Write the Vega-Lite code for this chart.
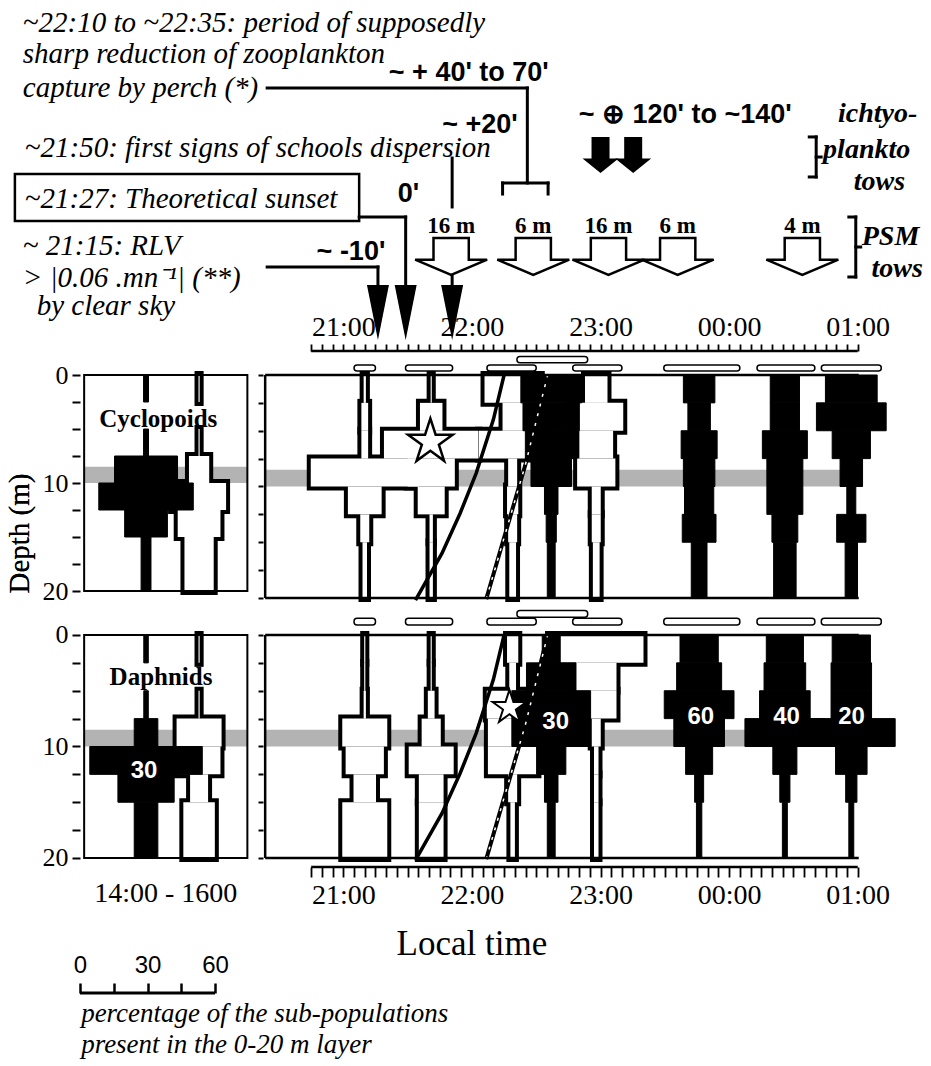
{
  "$schema": "https://vega.github.io/schema/vega-lite/v6.json",
  "background": "white",
  "width": 931,
  "height": 1066,
  "autosize": {"type": "none"},
  "padding": 0,
  "config": {
    "view": {"stroke": null},
    "font": "Liberation Serif",
    "axis": {"grid": false, "domainColor": "black", "tickColor": "black", "labelColor": "black", "titleColor": "black", "labelFont": "Liberation Serif", "titleFont": "Liberation Serif", "titleFontWeight": "normal"}
  },
  "datasets": {
    "band": [{"top": 8.5, "bot": 10}],
    "kites": [
      {"panel":"Cyclopoids","period":"day","t":"2000-01-01T14:31","top":0,"bot":2.5,"pct":2.2,"fill":"black"},
      {"panel":"Cyclopoids","period":"day","t":"2000-01-01T14:31","top":5,"bot":7.5,"pct":2.2,"fill":"black"},
      {"panel":"Cyclopoids","period":"day","t":"2000-01-01T14:31","top":7.5,"bot":10,"pct":28,"fill":"black"},
      {"panel":"Cyclopoids","period":"day","t":"2000-01-01T14:31","top":10,"bot":12.5,"pct":42,"fill":"black"},
      {"panel":"Cyclopoids","period":"day","t":"2000-01-01T14:31","top":12.5,"bot":15,"pct":19,"fill":"black"},
      {"panel":"Cyclopoids","period":"day","t":"2000-01-01T14:31","top":15,"bot":20,"pct":4.4,"fill":"black"},
      {"panel":"Cyclopoids","period":"day","t":"2000-01-01T15:49","top":0,"bot":2.5,"pct":0.5,"fill":"white"},
      {"panel":"Cyclopoids","period":"day","t":"2000-01-01T15:49","top":5,"bot":7.5,"pct":0.5,"fill":"white"},
      {"panel":"Cyclopoids","period":"day","t":"2000-01-01T15:49","top":7.5,"bot":10,"pct":9,"fill":"white"},
      {"panel":"Cyclopoids","period":"day","t":"2000-01-01T15:49","top":10,"bot":12.5,"pct":24,"fill":"white"},
      {"panel":"Cyclopoids","period":"day","t":"2000-01-01T15:49","top":12.5,"bot":15,"pct":19,"fill":"white"},
      {"panel":"Cyclopoids","period":"day","t":"2000-01-01T15:49","top":15,"bot":20,"pct":13,"fill":"white"},
      {"panel":"Daphnids","period":"day","t":"2000-01-01T14:31","top":0,"bot":2.5,"pct":2,"fill":"black"},
      {"panel":"Daphnids","period":"day","t":"2000-01-01T14:31","top":5,"bot":7.5,"pct":2,"fill":"black"},
      {"panel":"Daphnids","period":"day","t":"2000-01-01T14:31","top":7.5,"bot":10,"pct":10.5,"fill":"black"},
      {"panel":"Daphnids","period":"day","t":"2000-01-01T14:31","top":10,"bot":12.5,"pct":50,"fill":"black"},
      {"panel":"Daphnids","period":"day","t":"2000-01-01T14:31","top":12.5,"bot":15,"pct":25,"fill":"black"},
      {"panel":"Daphnids","period":"day","t":"2000-01-01T14:31","top":15,"bot":20,"pct":10.5,"fill":"black"},
      {"panel":"Daphnids","period":"day","t":"2000-01-01T15:49","top":0,"bot":2.5,"pct":0.5,"fill":"white"},
      {"panel":"Daphnids","period":"day","t":"2000-01-01T15:49","top":5,"bot":7.5,"pct":0.5,"fill":"white"},
      {"panel":"Daphnids","period":"day","t":"2000-01-01T15:49","top":7.5,"bot":10,"pct":20,"fill":"white"},
      {"panel":"Daphnids","period":"day","t":"2000-01-01T15:49","top":10,"bot":12.5,"pct":19,"fill":"white"},
      {"panel":"Daphnids","period":"day","t":"2000-01-01T15:49","top":12.5,"bot":15,"pct":8,"fill":"white"},
      {"panel":"Daphnids","period":"day","t":"2000-01-01T15:49","top":15,"bot":20,"pct":14,"fill":"white"},
      {"panel":"Cyclopoids","period":"night","t":"2000-01-01T21:10","top":0,"bot":2.5,"pct":1,"fill":"white"},
      {"panel":"Cyclopoids","period":"night","t":"2000-01-01T21:10","top":2.5,"bot":5,"pct":3,"fill":"white"},
      {"panel":"Cyclopoids","period":"night","t":"2000-01-01T21:10","top":5,"bot":7.5,"pct":3,"fill":"white"},
      {"panel":"Cyclopoids","period":"night","t":"2000-01-01T21:10","top":7.5,"bot":10,"pct":48,"fill":"white"},
      {"panel":"Cyclopoids","period":"night","t":"2000-01-01T21:10","top":10,"bot":12.5,"pct":15,"fill":"white"},
      {"panel":"Cyclopoids","period":"night","t":"2000-01-01T21:10","top":12.5,"bot":15,"pct":4,"fill":"white"},
      {"panel":"Cyclopoids","period":"night","t":"2000-01-01T21:10","top":15,"bot":20,"pct":2,"fill":"white"},
      {"panel":"Cyclopoids","period":"night","t":"2000-01-01T21:41","top":0,"bot":2.5,"pct":0.5,"fill":"white"},
      {"panel":"Cyclopoids","period":"night","t":"2000-01-01T21:41","top":2.5,"bot":5,"pct":10,"fill":"white"},
      {"panel":"Cyclopoids","period":"night","t":"2000-01-01T21:41","top":5,"bot":7.5,"pct":42,"fill":"white"},
      {"panel":"Cyclopoids","period":"night","t":"2000-01-01T21:41","top":7.5,"bot":10,"pct":21,"fill":"white"},
      {"panel":"Cyclopoids","period":"night","t":"2000-01-01T21:41","top":10,"bot":12.5,"pct":12,"fill":"white"},
      {"panel":"Cyclopoids","period":"night","t":"2000-01-01T21:41","top":12.5,"bot":15,"pct":1.5,"fill":"white"},
      {"panel":"Cyclopoids","period":"night","t":"2000-01-01T21:41","top":15,"bot":20,"pct":1.5,"fill":"white"},
      {"panel":"Cyclopoids","period":"night","t":"2000-01-01T22:19","top":0,"bot":2.5,"pct":25,"fill":"white"},
      {"panel":"Cyclopoids","period":"night","t":"2000-01-01T22:19","top":2.5,"bot":5,"pct":9,"fill":"white"},
      {"panel":"Cyclopoids","period":"night","t":"2000-01-01T22:19","top":5,"bot":7.5,"pct":30,"fill":"white"},
      {"panel":"Cyclopoids","period":"night","t":"2000-01-01T22:19","top":7.5,"bot":10,"pct":4,"fill":"white"},
      {"panel":"Cyclopoids","period":"night","t":"2000-01-01T22:19","top":10,"bot":12.5,"pct":5,"fill":"white"},
      {"panel":"Cyclopoids","period":"night","t":"2000-01-01T22:19","top":12.5,"bot":15,"pct":4,"fill":"white"},
      {"panel":"Cyclopoids","period":"night","t":"2000-01-01T22:19","top":15,"bot":20,"pct":3,"fill":"white"},
      {"panel":"Cyclopoids","period":"night","t":"2000-01-01T22:37","top":0,"bot":2.5,"pct":27,"fill":"black"},
      {"panel":"Cyclopoids","period":"night","t":"2000-01-01T22:37","top":2.5,"bot":5,"pct":25,"fill":"black"},
      {"panel":"Cyclopoids","period":"night","t":"2000-01-01T22:37","top":5,"bot":7.5,"pct":23,"fill":"black"},
      {"panel":"Cyclopoids","period":"night","t":"2000-01-01T22:37","top":7.5,"bot":10,"pct":18,"fill":"black"},
      {"panel":"Cyclopoids","period":"night","t":"2000-01-01T22:37","top":10,"bot":12.5,"pct":6,"fill":"black"},
      {"panel":"Cyclopoids","period":"night","t":"2000-01-01T22:37","top":12.5,"bot":15,"pct":4.5,"fill":"black"},
      {"panel":"Cyclopoids","period":"night","t":"2000-01-01T22:37","top":15,"bot":20,"pct":3.5,"fill":"black"},
      {"panel":"Cyclopoids","period":"night","t":"2000-01-01T22:58","top":0,"bot":2.5,"pct":10,"fill":"white"},
      {"panel":"Cyclopoids","period":"night","t":"2000-01-01T22:58","top":2.5,"bot":5,"pct":24,"fill":"white"},
      {"panel":"Cyclopoids","period":"night","t":"2000-01-01T22:58","top":5,"bot":7.5,"pct":15,"fill":"white"},
      {"panel":"Cyclopoids","period":"night","t":"2000-01-01T22:58","top":7.5,"bot":10,"pct":17,"fill":"white"},
      {"panel":"Cyclopoids","period":"night","t":"2000-01-01T22:58","top":10,"bot":12.5,"pct":4,"fill":"white"},
      {"panel":"Cyclopoids","period":"night","t":"2000-01-01T22:58","top":12.5,"bot":15,"pct":4,"fill":"white"},
      {"panel":"Cyclopoids","period":"night","t":"2000-01-01T22:58","top":15,"bot":20,"pct":3,"fill":"white"},
      {"panel":"Cyclopoids","period":"night","t":"2000-01-01T23:46","top":0,"bot":2.5,"pct":14,"fill":"black"},
      {"panel":"Cyclopoids","period":"night","t":"2000-01-01T23:46","top":2.5,"bot":5,"pct":10,"fill":"black"},
      {"panel":"Cyclopoids","period":"night","t":"2000-01-01T23:46","top":5,"bot":7.5,"pct":16,"fill":"black"},
      {"panel":"Cyclopoids","period":"night","t":"2000-01-01T23:46","top":7.5,"bot":10,"pct":14,"fill":"black"},
      {"panel":"Cyclopoids","period":"night","t":"2000-01-01T23:46","top":10,"bot":12.5,"pct":13,"fill":"black"},
      {"panel":"Cyclopoids","period":"night","t":"2000-01-01T23:46","top":12.5,"bot":15,"pct":15,"fill":"black"},
      {"panel":"Cyclopoids","period":"night","t":"2000-01-01T23:46","top":15,"bot":20,"pct":7,"fill":"black"},
      {"panel":"Cyclopoids","period":"night","t":"2000-01-02T00:26","top":0,"bot":2.5,"pct":13,"fill":"black"},
      {"panel":"Cyclopoids","period":"night","t":"2000-01-02T00:26","top":2.5,"bot":5,"pct":13,"fill":"black"},
      {"panel":"Cyclopoids","period":"night","t":"2000-01-02T00:26","top":5,"bot":7.5,"pct":20,"fill":"black"},
      {"panel":"Cyclopoids","period":"night","t":"2000-01-02T00:26","top":7.5,"bot":10,"pct":16,"fill":"black"},
      {"panel":"Cyclopoids","period":"night","t":"2000-01-02T00:26","top":10,"bot":12.5,"pct":16,"fill":"black"},
      {"panel":"Cyclopoids","period":"night","t":"2000-01-02T00:26","top":12.5,"bot":15,"pct":11.5,"fill":"black"},
      {"panel":"Cyclopoids","period":"night","t":"2000-01-02T00:26","top":15,"bot":20,"pct":10,"fill":"black"},
      {"panel":"Cyclopoids","period":"night","t":"2000-01-02T00:57","top":0,"bot":2.5,"pct":23,"fill":"black"},
      {"panel":"Cyclopoids","period":"night","t":"2000-01-02T00:57","top":2.5,"bot":5,"pct":31,"fill":"black"},
      {"panel":"Cyclopoids","period":"night","t":"2000-01-02T00:57","top":5,"bot":7.5,"pct":17,"fill":"black"},
      {"panel":"Cyclopoids","period":"night","t":"2000-01-02T00:57","top":7.5,"bot":10,"pct":10,"fill":"black"},
      {"panel":"Cyclopoids","period":"night","t":"2000-01-02T00:57","top":10,"bot":12.5,"pct":4,"fill":"black"},
      {"panel":"Cyclopoids","period":"night","t":"2000-01-02T00:57","top":12.5,"bot":15,"pct":13,"fill":"black"},
      {"panel":"Cyclopoids","period":"night","t":"2000-01-02T00:57","top":15,"bot":20,"pct":5.5,"fill":"black"},
      {"panel":"Daphnids","period":"night","t":"2000-01-01T21:10","top":0,"bot":2.5,"pct":0.5,"fill":"white"},
      {"panel":"Daphnids","period":"night","t":"2000-01-01T21:10","top":2.5,"bot":5,"pct":0.5,"fill":"white"},
      {"panel":"Daphnids","period":"night","t":"2000-01-01T21:10","top":5,"bot":7.5,"pct":1,"fill":"white"},
      {"panel":"Daphnids","period":"night","t":"2000-01-01T21:10","top":7.5,"bot":10,"pct":20,"fill":"white"},
      {"panel":"Daphnids","period":"night","t":"2000-01-01T21:10","top":10,"bot":12.5,"pct":17,"fill":"white"},
      {"panel":"Daphnids","period":"night","t":"2000-01-01T21:10","top":12.5,"bot":15,"pct":10,"fill":"white"},
      {"panel":"Daphnids","period":"night","t":"2000-01-01T21:10","top":15,"bot":20,"pct":20,"fill":"white"},
      {"panel":"Daphnids","period":"night","t":"2000-01-01T21:41","top":0,"bot":2.5,"pct":0.5,"fill":"white"},
      {"panel":"Daphnids","period":"night","t":"2000-01-01T21:41","top":2.5,"bot":5,"pct":0.5,"fill":"white"},
      {"panel":"Daphnids","period":"night","t":"2000-01-01T21:41","top":5,"bot":7.5,"pct":3,"fill":"white"},
      {"panel":"Daphnids","period":"night","t":"2000-01-01T21:41","top":7.5,"bot":10,"pct":8.5,"fill":"white"},
      {"panel":"Daphnids","period":"night","t":"2000-01-01T21:41","top":10,"bot":12.5,"pct":20,"fill":"white"},
      {"panel":"Daphnids","period":"night","t":"2000-01-01T21:41","top":12.5,"bot":15,"pct":11,"fill":"white"},
      {"panel":"Daphnids","period":"night","t":"2000-01-01T21:41","top":15,"bot":20,"pct":11,"fill":"white"},
      {"panel":"Daphnids","period":"night","t":"2000-01-01T22:19","top":0,"bot":2.5,"pct":5,"fill":"white"},
      {"panel":"Daphnids","period":"night","t":"2000-01-01T22:19","top":2.5,"bot":5,"pct":3,"fill":"white"},
      {"panel":"Daphnids","period":"night","t":"2000-01-01T22:19","top":5,"bot":7.5,"pct":23,"fill":"white"},
      {"panel":"Daphnids","period":"night","t":"2000-01-01T22:19","top":7.5,"bot":10,"pct":22,"fill":"white"},
      {"panel":"Daphnids","period":"night","t":"2000-01-01T22:19","top":10,"bot":12.5,"pct":22,"fill":"white"},
      {"panel":"Daphnids","period":"night","t":"2000-01-01T22:19","top":12.5,"bot":15,"pct":4,"fill":"white"},
      {"panel":"Daphnids","period":"night","t":"2000-01-01T22:19","top":15,"bot":20,"pct":2,"fill":"white"},
      {"panel":"Daphnids","period":"night","t":"2000-01-01T22:37","top":0,"bot":2.5,"pct":8,"fill":"black"},
      {"panel":"Daphnids","period":"night","t":"2000-01-01T22:37","top":2.5,"bot":5,"pct":22,"fill":"black"},
      {"panel":"Daphnids","period":"night","t":"2000-01-01T22:37","top":5,"bot":7.5,"pct":35,"fill":"black"},
      {"panel":"Daphnids","period":"night","t":"2000-01-01T22:37","top":7.5,"bot":10,"pct":35,"fill":"black"},
      {"panel":"Daphnids","period":"night","t":"2000-01-01T22:37","top":10,"bot":12.5,"pct":13,"fill":"black"},
      {"panel":"Daphnids","period":"night","t":"2000-01-01T22:37","top":12.5,"bot":15,"pct":6,"fill":"black"},
      {"panel":"Daphnids","period":"night","t":"2000-01-01T22:37","top":15,"bot":20,"pct":3.5,"fill":"black"},
      {"panel":"Daphnids","period":"night","t":"2000-01-01T22:58","top":0,"bot":2.5,"pct":42,"fill":"white"},
      {"panel":"Daphnids","period":"night","t":"2000-01-01T22:58","top":2.5,"bot":5,"pct":18,"fill":"white"},
      {"panel":"Daphnids","period":"night","t":"2000-01-01T22:58","top":5,"bot":7.5,"pct":18,"fill":"white"},
      {"panel":"Daphnids","period":"night","t":"2000-01-01T22:58","top":7.5,"bot":10,"pct":4,"fill":"white"},
      {"panel":"Daphnids","period":"night","t":"2000-01-01T22:58","top":10,"bot":12.5,"pct":2,"fill":"white"},
      {"panel":"Daphnids","period":"night","t":"2000-01-01T22:58","top":12.5,"bot":15,"pct":2,"fill":"white"},
      {"panel":"Daphnids","period":"night","t":"2000-01-01T22:58","top":15,"bot":20,"pct":2,"fill":"white"},
      {"panel":"Daphnids","period":"night","t":"2000-01-01T23:46","top":0,"bot":2.5,"pct":17,"fill":"black"},
      {"panel":"Daphnids","period":"night","t":"2000-01-01T23:46","top":2.5,"bot":5,"pct":20,"fill":"black"},
      {"panel":"Daphnids","period":"night","t":"2000-01-01T23:46","top":5,"bot":7.5,"pct":31,"fill":"black"},
      {"panel":"Daphnids","period":"night","t":"2000-01-01T23:46","top":7.5,"bot":10,"pct":22.5,"fill":"black"},
      {"panel":"Daphnids","period":"night","t":"2000-01-01T23:46","top":10,"bot":12.5,"pct":12,"fill":"black"},
      {"panel":"Daphnids","period":"night","t":"2000-01-01T23:46","top":12.5,"bot":15,"pct":4,"fill":"black"},
      {"panel":"Daphnids","period":"night","t":"2000-01-01T23:46","top":15,"bot":20,"pct":2.4,"fill":"black"},
      {"panel":"Daphnids","period":"night","t":"2000-01-02T00:26","top":0,"bot":2.5,"pct":16.5,"fill":"black"},
      {"panel":"Daphnids","period":"night","t":"2000-01-02T00:26","top":2.5,"bot":5,"pct":18.5,"fill":"black"},
      {"panel":"Daphnids","period":"night","t":"2000-01-02T00:26","top":5,"bot":7.5,"pct":22.5,"fill":"black"},
      {"panel":"Daphnids","period":"night","t":"2000-01-02T00:26","top":7.5,"bot":10,"pct":35.5,"fill":"black"},
      {"panel":"Daphnids","period":"night","t":"2000-01-02T00:26","top":10,"bot":12.5,"pct":10.7,"fill":"black"},
      {"panel":"Daphnids","period":"night","t":"2000-01-02T00:26","top":12.5,"bot":15,"pct":4.5,"fill":"black"},
      {"panel":"Daphnids","period":"night","t":"2000-01-02T00:26","top":15,"bot":20,"pct":2.2,"fill":"black"},
      {"panel":"Daphnids","period":"night","t":"2000-01-02T00:57","top":0,"bot":2.5,"pct":17,"fill":"black"},
      {"panel":"Daphnids","period":"night","t":"2000-01-02T00:57","top":2.5,"bot":5,"pct":18,"fill":"black"},
      {"panel":"Daphnids","period":"night","t":"2000-01-02T00:57","top":5,"bot":7.5,"pct":18,"fill":"black"},
      {"panel":"Daphnids","period":"night","t":"2000-01-02T00:57","top":7.5,"bot":10,"pct":39,"fill":"black"},
      {"panel":"Daphnids","period":"night","t":"2000-01-02T00:57","top":10,"bot":12.5,"pct":14,"fill":"black"},
      {"panel":"Daphnids","period":"night","t":"2000-01-02T00:57","top":12.5,"bot":15,"pct":5,"fill":"black"},
      {"panel":"Daphnids","period":"night","t":"2000-01-02T00:57","top":15,"bot":20,"pct":2.2,"fill":"black"}
    ],
    "samples": [
      {"t0":"2000-01-01T21:05","t1":"2000-01-01T21:15","level":"low"},
      {"t0":"2000-01-01T21:29","t1":"2000-01-01T21:51","level":"low"},
      {"t0":"2000-01-01T22:07","t1":"2000-01-01T22:30","level":"low"},
      {"t0":"2000-01-01T22:21","t1":"2000-01-01T22:54","level":"high"},
      {"t0":"2000-01-01T22:47","t1":"2000-01-01T23:10","level":"low"},
      {"t0":"2000-01-01T23:29:30","t1":"2000-01-02T00:05","level":"low"},
      {"t0":"2000-01-02T00:13","t1":"2000-01-02T00:40","level":"low"},
      {"t0":"2000-01-02T00:43","t1":"2000-01-02T01:11","level":"low"}
    ],
    "lines": [
      {"line":"solid","t":"2000-01-01T21:33:40","d":20.2},
      {"line":"solid","t":"2000-01-01T21:46:00","d":16},
      {"line":"solid","t":"2000-01-01T21:54:30","d":12.4},
      {"line":"solid","t":"2000-01-01T22:02:00","d":8.8},
      {"line":"solid","t":"2000-01-01T22:10:00","d":4},
      {"line":"solid","t":"2000-01-01T22:15:00","d":0},
      {"line":"dashed","t":"2000-01-01T22:06:40","d":20.1},
      {"line":"dashed","t":"2000-01-01T22:25:00","d":8},
      {"line":"dashed","t":"2000-01-01T22:35:20","d":0}
    ],
    "stars": [
      {"panel":"Cyclopoids","t":"2000-01-01T21:40:36","d":6.0},
      {"panel":"Daphnids","t":"2000-01-01T22:17:30","d":6.5}
    ],
    "numbers": [
      {"panel":"Daphnids","period":"day","t":"2000-01-01T14:28","d":12.2,"label":"30"},
      {"panel":"Daphnids","period":"night","t":"2000-01-01T22:39:05","d":7.77,"label":"30"},
      {"panel":"Daphnids","period":"night","t":"2000-01-01T23:46:45","d":7.33,"label":"60"},
      {"panel":"Daphnids","period":"night","t":"2000-01-02T00:26:46","d":7.33,"label":"40"},
      {"panel":"Daphnids","period":"night","t":"2000-01-02T00:57:05","d":7.33,"label":"20"}
    ],
    "panel_labels": [
      {"panel":"Cyclopoids","t":"2000-01-01T14:49","d":4.07},
      {"panel":"Daphnids","t":"2000-01-01T14:53","d":3.77}
    ],
    "notes_italic": [
      {"label":"~22:10 to ~22:35: period of supposedly","t":"2000-01-01T18:30:28","d":-30.76},
      {"label":"sharp reduction of zooplankton","t":"2000-01-01T18:30:28","d":-27.98},
      {"label":"capture by perch (*)","t":"2000-01-01T18:30:28","d":-24.93},
      {"label":"~21:50: first signs of  schools dispersion","t":"2000-01-01T18:31:23","d":-19.55},
      {"label":"~21:27: Theoretical sunset","t":"2000-01-01T18:31:23","d":-14.98},
      {"label":"~ 21:15: RLV","t":"2000-01-01T18:30:28","d":-10.76},
      {"label":">  |0.06 .mn⁻¹|  (**)","t":"2000-01-01T18:30:28","d":-7.89},
      {"label":"by clear sky","t":"2000-01-01T18:36:55","d":-5.38}
    ],
    "notes_bold": [
      {"label":"~  + 40' to 70'","t":"2000-01-01T21:21:14","d":-26.37},
      {"label":"~ +20'","t":"2000-01-01T21:46:09","d":-21.70},
      {"label":"0'","t":"2000-01-01T21:25:23","d":-15.52},
      {"label":"~ -10'","t":"2000-01-01T20:47:32","d":-10.31},
      {"label":"~  ⊕ 120'  to  ~140'","t":"2000-01-01T22:49:51","d":-22.60}
    ],
    "notes_bolditalic": [
      {"label":"ichtyo-","t":"2000-01-02T00:50:46","d":-22.69},
      {"label":"plankto","t":"2000-01-02T00:43:51","d":-19.46},
      {"label":"tows","t":"2000-01-02T00:58:09","d":-16.59},
      {"label":"PSM","t":"2000-01-02T01:01:51","d":-11.66},
      {"label":"tows","t":"2000-01-02T01:06:28","d":-8.79}
    ],
    "sunset_box": [
      {"t0":"2000-01-01T18:26:46","t1":"2000-01-01T21:07:23","d0":-18.03,"d1":-13.81}
    ],
    "leaders": [
      {"t":"2000-01-01T20:24:28","t2":"2000-01-01T22:25:51","d":-25.74,"d2":-25.74},
      {"t":"2000-01-01T22:25:51","t2":"2000-01-01T22:25:51","d":-25.74,"d2":-17.22},
      {"t":"2000-01-01T22:14:18","t2":"2000-01-01T22:35:32","d":-17.22,"d2":-17.22},
      {"t":"2000-01-01T22:14:18","t2":"2000-01-01T22:14:18","d":-17.22,"d2":-16.23},
      {"t":"2000-01-01T22:35:32","t2":"2000-01-01T22:35:32","d":-17.22,"d2":-16.23},
      {"t":"2000-01-01T21:50:46","t2":"2000-01-01T21:50:46","d":-19.46,"d2":-15.07},
      {"t":"2000-01-01T21:07:23","t2":"2000-01-01T21:29:05","d":-14.17,"d2":-14.17},
      {"t":"2000-01-01T21:29:05","t2":"2000-01-01T21:29:05","d":-14.17,"d2":-7.9},
      {"t":"2000-01-01T20:24:28","t2":"2000-01-01T21:16:09","d":-9.69,"d2":-9.69},
      {"t":"2000-01-01T21:16:09","t2":"2000-01-01T21:16:09","d":-9.69,"d2":-7.9},
      {"t":"2000-01-01T21:50:46","t2":"2000-01-01T21:50:46","d":-9.0,"d2":-7.9},
      {"t":"2000-01-02T00:40:37","t2":"2000-01-02T00:40:37","d":-21.35,"d2":-17.76},
      {"t":"2000-01-02T00:37:23","t2":"2000-01-02T00:40:37","d":-21.35,"d2":-21.35},
      {"t":"2000-01-02T00:37:23","t2":"2000-01-02T00:40:37","d":-17.76,"d2":-17.76},
      {"t":"2000-01-02T00:40:37","t2":"2000-01-02T00:42:55","d":-19.55,"d2":-19.55},
      {"t":"2000-01-02T00:59:05","t2":"2000-01-02T00:59:05","d":-14.17,"d2":-8.79},
      {"t":"2000-01-02T00:55:51","t2":"2000-01-02T00:59:05","d":-14.17,"d2":-14.17},
      {"t":"2000-01-02T00:55:51","t2":"2000-01-02T00:59:05","d":-8.79,"d2":-8.79},
      {"t":"2000-01-02T00:59:05","t2":"2000-01-02T01:01:23","d":-11.48,"d2":-11.48}
    ],
    "arrowheads": [
      {"event":"RLV","t":"2000-01-01T21:16:09"},
      {"event":"sunset","t":"2000-01-01T21:29:05"},
      {"event":"dispersion","t":"2000-01-01T21:50:46"}
    ],
    "psm_tows": [
      {"t":"2000-01-01T21:50:18","depth":"16 m"},
      {"t":"2000-01-01T22:28:37","depth":"6 m"},
      {"t":"2000-01-01T23:03:42","depth":"16 m"},
      {"t":"2000-01-01T23:36:00","depth":"6 m"},
      {"t":"2000-01-02T00:34:09","depth":"4 m"}
    ],
    "ichthyo_tows": [
      {"t":"2000-01-01T23:00:00"},
      {"t":"2000-01-01T23:15:14"}
    ]
  },
  "resolve": {"scale": {"x": "independent", "y": "independent"}, "axis": {"x": "independent", "y": "independent"}},
  "layer": [
    {
      "layer": [
        {
          "data": {"name": "band"},
          "mark": {"type": "rect", "color": "#b3b3b3"},
          "encoding": {
            "x": {"datum": {"year":2000,"month":1,"date":1,"hours":20,"minutes":23,"seconds":32}},
            "x2": {"datum": {"year":2000,"month":1,"date":2,"hours":1,"minutes":0,"seconds":28}},
            "y": {"field": "top", "type": "quantitative"},
            "y2": {"field": "bot"}
          }
        },
        {
          "data": {"name": "kites"},
          "transform": [{"filter": "datum.panel == 'Cyclopoids' && datum.period == 'night' && datum.fill == 'white'"}],
          "mark": {"type": "bar", "color": "black", "stroke": "black", "strokeWidth": 8},
          "encoding": {
            "x": {"field": "t", "type": "temporal",
              "scale": {"domain": [{"year":2000,"month":1,"date":1,"hours":18,"minutes":22,"seconds":9}, {"year":2000,"month":1,"date":2,"hours":1,"minutes":31,"seconds":51}], "nice": false},
              "axis": {"orient": "top", "offset": -351, "domain": false, "title": null, "tickCount": 200,
                "values": [
                  {"year":2000,"month":1,"date":1,"hours":20,"minutes":45},{"year":2000,"month":1,"date":1,"hours":20,"minutes":50},{"year":2000,"month":1,"date":1,"hours":20,"minutes":55},
                  {"year":2000,"month":1,"date":1,"hours":21,"minutes":0},{"year":2000,"month":1,"date":1,"hours":21,"minutes":5},{"year":2000,"month":1,"date":1,"hours":21,"minutes":10},{"year":2000,"month":1,"date":1,"hours":21,"minutes":15},{"year":2000,"month":1,"date":1,"hours":21,"minutes":20},{"year":2000,"month":1,"date":1,"hours":21,"minutes":25},{"year":2000,"month":1,"date":1,"hours":21,"minutes":30},{"year":2000,"month":1,"date":1,"hours":21,"minutes":35},{"year":2000,"month":1,"date":1,"hours":21,"minutes":40},{"year":2000,"month":1,"date":1,"hours":21,"minutes":45},{"year":2000,"month":1,"date":1,"hours":21,"minutes":50},{"year":2000,"month":1,"date":1,"hours":21,"minutes":55},
                  {"year":2000,"month":1,"date":1,"hours":22,"minutes":0},{"year":2000,"month":1,"date":1,"hours":22,"minutes":5},{"year":2000,"month":1,"date":1,"hours":22,"minutes":10},{"year":2000,"month":1,"date":1,"hours":22,"minutes":15},{"year":2000,"month":1,"date":1,"hours":22,"minutes":20},{"year":2000,"month":1,"date":1,"hours":22,"minutes":25},{"year":2000,"month":1,"date":1,"hours":22,"minutes":30},{"year":2000,"month":1,"date":1,"hours":22,"minutes":35},{"year":2000,"month":1,"date":1,"hours":22,"minutes":40},{"year":2000,"month":1,"date":1,"hours":22,"minutes":45},{"year":2000,"month":1,"date":1,"hours":22,"minutes":50},{"year":2000,"month":1,"date":1,"hours":22,"minutes":55},
                  {"year":2000,"month":1,"date":1,"hours":23,"minutes":0},{"year":2000,"month":1,"date":1,"hours":23,"minutes":5},{"year":2000,"month":1,"date":1,"hours":23,"minutes":10},{"year":2000,"month":1,"date":1,"hours":23,"minutes":15},{"year":2000,"month":1,"date":1,"hours":23,"minutes":20},{"year":2000,"month":1,"date":1,"hours":23,"minutes":25},{"year":2000,"month":1,"date":1,"hours":23,"minutes":30},{"year":2000,"month":1,"date":1,"hours":23,"minutes":35},{"year":2000,"month":1,"date":1,"hours":23,"minutes":40},{"year":2000,"month":1,"date":1,"hours":23,"minutes":45},{"year":2000,"month":1,"date":1,"hours":23,"minutes":50},{"year":2000,"month":1,"date":1,"hours":23,"minutes":55},
                  {"year":2000,"month":1,"date":2,"hours":0,"minutes":0},{"year":2000,"month":1,"date":2,"hours":0,"minutes":5},{"year":2000,"month":1,"date":2,"hours":0,"minutes":10},{"year":2000,"month":1,"date":2,"hours":0,"minutes":15},{"year":2000,"month":1,"date":2,"hours":0,"minutes":20},{"year":2000,"month":1,"date":2,"hours":0,"minutes":25},{"year":2000,"month":1,"date":2,"hours":0,"minutes":30},{"year":2000,"month":1,"date":2,"hours":0,"minutes":35},{"year":2000,"month":1,"date":2,"hours":0,"minutes":40},{"year":2000,"month":1,"date":2,"hours":0,"minutes":45},{"year":2000,"month":1,"date":2,"hours":0,"minutes":50},{"year":2000,"month":1,"date":2,"hours":0,"minutes":55},
                  {"year":2000,"month":1,"date":2,"hours":1,"minutes":0}
                ],
                "tickSize": 7, "tickWidth": 1.8,
                "labelExpr": "minutes(datum.value) == 0 ? timeFormat(datum.value, '%H:%M') : ''",
                "labelFontSize": 28, "labelPadding": 3, "labelOverlap": false, "labelFlush": false, "labelBound": false}},
            "y": {"field": "top", "type": "quantitative",
              "scale": {"domain": [-33.632, 61.973], "reverse": true, "nice": false, "zero": false},
              "axis": {"orient": "left", "offset": -263, "values": [0, 2.5, 5, 7.5, 10, 12.5, 15, 17.5, 20], "labels": false, "tickSize": 5, "tickWidth": 2, "domain": false, "title": null}},
            "y2": {"field": "bot"},
            "size": {"field": "pct", "type": "quantitative", "scale": {"domain": [0, 100], "range": [0, 225]}, "legend": null}
          }
        },
        {
          "data": {"name": "kites"},
          "transform": [{"filter": "datum.panel == 'Cyclopoids' && datum.period == 'night' && datum.fill == 'white'"}],
          "mark": {"type": "bar", "color": "white", "strokeWidth": 0},
          "encoding": {
            "x": {"field": "t", "type": "temporal"},
            "y": {"field": "top", "type": "quantitative"},
            "y2": {"field": "bot"},
            "size": {"field": "pct", "type": "quantitative", "scale": {"domain": [0, 100], "range": [0, 225]}, "legend": null}
          }
        },
        {
          "data": {"name": "kites"},
          "transform": [{"filter": "datum.panel == 'Cyclopoids' && datum.period == 'night' && datum.fill == 'black'"}],
          "mark": {"type": "bar", "color": "black", "stroke": "black", "strokeWidth": 1},
          "encoding": {
            "x": {"field": "t", "type": "temporal"},
            "y": {"field": "top", "type": "quantitative"},
            "y2": {"field": "bot"},
            "size": {"field": "pct", "type": "quantitative", "scale": {"domain": [0, 100], "range": [0, 225]}, "legend": null}
          }
        },
        {
          "data": {"name": "samples"},
          "transform": [{"filter": "datum.level == 'low'"}],
          "mark": {"type": "rect", "fill": "white", "stroke": "black", "strokeWidth": 1.5, "cornerRadius": 3},
          "encoding": {"x": {"field": "t0", "type": "temporal"}, "x2": {"field": "t1"}, "y": {"datum": -0.9}, "y2": {"datum": -0.35}}
        },
        {
          "data": {"name": "samples"},
          "transform": [{"filter": "datum.level == 'high'"}],
          "mark": {"type": "rect", "fill": "white", "stroke": "black", "strokeWidth": 1.5, "cornerRadius": 3},
          "encoding": {"x": {"field": "t0", "type": "temporal"}, "x2": {"field": "t1"}, "y": {"datum": -1.65}, "y2": {"datum": -1.1}}
        },
        {
          "data": {"name": "lines"},
          "transform": [{"filter": "datum.line == 'solid'"}],
          "mark": {"type": "line", "color": "black", "strokeWidth": 3.5},
          "encoding": {"x": {"field": "t", "type": "temporal"}, "y": {"field": "d", "type": "quantitative"}}
        },
        {
          "data": {"name": "lines"},
          "transform": [{"filter": "datum.line == 'dashed'"}],
          "mark": {"type": "line", "color": "black", "strokeWidth": 4},
          "encoding": {"x": {"field": "t", "type": "temporal"}, "y": {"field": "d", "type": "quantitative"}}
        },
        {
          "data": {"name": "lines"},
          "transform": [{"filter": "datum.line == 'dashed'"}],
          "mark": {"type": "line", "color": "white", "strokeWidth": 1.5, "strokeDash": [3, 7]},
          "encoding": {"x": {"field": "t", "type": "temporal"}, "y": {"field": "d", "type": "quantitative"}}
        },
        {
          "data": {"name": "stars"},
          "transform": [{"filter": "datum.panel == 'Cyclopoids'"}],
          "mark": {"type": "point", "shape": "M0,-1L0.2245,-0.309L0.951,-0.309L0.3633,0.118L0.588,0.809L0,0.382L-0.588,0.809L-0.3633,0.118L-0.951,-0.309L-0.2245,-0.309Z", "size": 2200, "filled": true, "fill": "white", "stroke": "black", "strokeWidth": 2.5, "opacity": 1},
          "encoding": {"x": {"field": "t", "type": "temporal"}, "y": {"field": "d", "type": "quantitative"}}
        },
        {
          "data": {"values": [{}]},
          "mark": {"type": "rule", "color": "black", "strokeWidth": 2.5},
          "encoding": {
            "x": {"datum": {"year":2000,"month":1,"date":1,"hours":20,"minutes":23,"seconds":32}},
            "x2": {"datum": {"year":2000,"month":1,"date":2,"hours":1,"minutes":0,"seconds":28}},
            "y": {"datum": 0}
          }
        },
        {
          "data": {"values": [{}]},
          "mark": {"type": "rule", "color": "black", "strokeWidth": 2.5},
          "encoding": {
            "x": {"datum": {"year":2000,"month":1,"date":1,"hours":20,"minutes":23,"seconds":32}},
            "x2": {"datum": {"year":2000,"month":1,"date":2,"hours":1,"minutes":0,"seconds":28}},
            "y": {"datum": 20}
          }
        },
        {
          "data": {"values": [{}]},
          "mark": {"type": "rule", "color": "black", "strokeWidth": 2.5},
          "encoding": {
            "x": {"datum": {"year":2000,"month":1,"date":1,"hours":20,"minutes":23,"seconds":32}},
            "y": {"datum": 0},
            "y2": {"datum": 20}
          }
        },
        {
          "data": {"values": [{}]},
          "mark": {"type": "rule", "color": "black", "strokeWidth": 2.5},
          "encoding": {
            "x": {"datum": {"year":2000,"month":1,"date":1,"hours":20,"minutes":45}},
            "x2": {"datum": {"year":2000,"month":1,"date":2,"hours":1,"minutes":0}},
            "y": {"datum": -2.152}
          }
        },
        {
          "data": {"name": "sunset_box"},
          "mark": {"type": "rect", "fill": "transparent", "stroke": "black", "strokeWidth": 2.5},
          "encoding": {"x": {"field": "t0", "type": "temporal"}, "x2": {"field": "t1"}, "y": {"field": "d0", "type": "quantitative"}, "y2": {"field": "d1"}}
        },
        {
          "data": {"name": "leaders"},
          "mark": {"type": "rule", "color": "black", "strokeWidth": 3, "strokeCap": "square"},
          "encoding": {"x": {"field": "t", "type": "temporal"}, "x2": {"field": "t2"}, "y": {"field": "d", "type": "quantitative"}, "y2": {"field": "d2"}}
        },
        {
          "data": {"name": "notes_italic"},
          "mark": {"type": "text", "align": "left", "baseline": "alphabetic", "font": "Liberation Serif", "fontStyle": "italic", "fontSize": 29, "color": "black"},
          "encoding": {"x": {"field": "t", "type": "temporal"}, "y": {"field": "d", "type": "quantitative"}, "text": {"field": "label"}}
        },
        {
          "data": {"name": "notes_bold"},
          "mark": {"type": "text", "align": "left", "baseline": "alphabetic", "font": "Liberation Sans", "fontWeight": "bold", "fontSize": 27, "color": "black"},
          "encoding": {"x": {"field": "t", "type": "temporal"}, "y": {"field": "d", "type": "quantitative"}, "text": {"field": "label"}}
        },
        {
          "data": {"name": "notes_bolditalic"},
          "mark": {"type": "text", "align": "left", "baseline": "alphabetic", "font": "Liberation Serif", "fontStyle": "italic", "fontWeight": "bold", "fontSize": 28, "color": "black"},
          "encoding": {"x": {"field": "t", "type": "temporal"}, "y": {"field": "d", "type": "quantitative"}, "text": {"field": "label"}}
        },
        {
          "data": {"name": "arrowheads"},
          "mark": {"type": "point", "shape": "M-0.4,-1L0.4,-1L0,1Z", "size": 3025, "filled": true, "fill": "black", "strokeWidth": 0, "opacity": 1},
          "encoding": {"x": {"field": "t", "type": "temporal"}, "y": {"datum": -5.6}}
        },
        {
          "data": {"name": "psm_tows"},
          "mark": {"type": "point", "shape": "M-0.49,-0.51L0.49,-0.51L0.49,0.09L1,0.09L0,0.51L-1,0.09L-0.49,0.09Z", "size": 5184, "filled": true, "fill": "white", "stroke": "black", "strokeWidth": 2.5, "opacity": 1},
          "encoding": {"x": {"field": "t", "type": "temporal"}, "y": {"datum": -10.63}}
        },
        {
          "data": {"name": "psm_tows"},
          "mark": {"type": "text", "align": "center", "baseline": "alphabetic", "font": "Liberation Serif", "fontWeight": "bold", "fontSize": 23, "color": "black"},
          "encoding": {"x": {"field": "t", "type": "temporal"}, "y": {"datum": -12.74}, "text": {"field": "depth"}}
        },
        {
          "data": {"name": "ichthyo_tows"},
          "mark": {"type": "point", "shape": "M-0.5,-1L0.5,-1L0.5,0.2L1,0.2L0,1L-1,0.2L-0.5,0.2Z", "size": 1296, "filled": true, "fill": "black", "strokeWidth": 0, "opacity": 1},
          "encoding": {"x": {"field": "t", "type": "temporal"}, "y": {"datum": -19.73}}
        }
      ]
    },
    {
      "layer": [
        {
          "data": {"name": "band"},
          "mark": {"type": "rect", "color": "#b3b3b3"},
          "encoding": {
            "x": {"datum": {"year":2000,"month":1,"date":1,"hours":20,"minutes":23,"seconds":32}},
            "x2": {"datum": {"year":2000,"month":1,"date":2,"hours":1,"minutes":0,"seconds":28}},
            "y": {"field": "top", "type": "quantitative"},
            "y2": {"field": "bot"}
          }
        },
        {
          "data": {"name": "kites"},
          "transform": [{"filter": "datum.panel == 'Daphnids' && datum.period == 'night' && datum.fill == 'white'"}],
          "mark": {"type": "bar", "color": "black", "stroke": "black", "strokeWidth": 8},
          "encoding": {
            "x": {"field": "t", "type": "temporal",
              "scale": {"domain": [{"year":2000,"month":1,"date":1,"hours":18,"minutes":22,"seconds":9}, {"year":2000,"month":1,"date":2,"hours":1,"minutes":31,"seconds":51}], "nice": false},
              "axis": {"orient": "bottom", "offset": -199, "domain": false, "title": null, "tickCount": 200,
                "values": [
                  {"year":2000,"month":1,"date":1,"hours":20,"minutes":45},{"year":2000,"month":1,"date":1,"hours":20,"minutes":50},{"year":2000,"month":1,"date":1,"hours":20,"minutes":55},
                  {"year":2000,"month":1,"date":1,"hours":21,"minutes":0},{"year":2000,"month":1,"date":1,"hours":21,"minutes":5},{"year":2000,"month":1,"date":1,"hours":21,"minutes":10},{"year":2000,"month":1,"date":1,"hours":21,"minutes":15},{"year":2000,"month":1,"date":1,"hours":21,"minutes":20},{"year":2000,"month":1,"date":1,"hours":21,"minutes":25},{"year":2000,"month":1,"date":1,"hours":21,"minutes":30},{"year":2000,"month":1,"date":1,"hours":21,"minutes":35},{"year":2000,"month":1,"date":1,"hours":21,"minutes":40},{"year":2000,"month":1,"date":1,"hours":21,"minutes":45},{"year":2000,"month":1,"date":1,"hours":21,"minutes":50},{"year":2000,"month":1,"date":1,"hours":21,"minutes":55},
                  {"year":2000,"month":1,"date":1,"hours":22,"minutes":0},{"year":2000,"month":1,"date":1,"hours":22,"minutes":5},{"year":2000,"month":1,"date":1,"hours":22,"minutes":10},{"year":2000,"month":1,"date":1,"hours":22,"minutes":15},{"year":2000,"month":1,"date":1,"hours":22,"minutes":20},{"year":2000,"month":1,"date":1,"hours":22,"minutes":25},{"year":2000,"month":1,"date":1,"hours":22,"minutes":30},{"year":2000,"month":1,"date":1,"hours":22,"minutes":35},{"year":2000,"month":1,"date":1,"hours":22,"minutes":40},{"year":2000,"month":1,"date":1,"hours":22,"minutes":45},{"year":2000,"month":1,"date":1,"hours":22,"minutes":50},{"year":2000,"month":1,"date":1,"hours":22,"minutes":55},
                  {"year":2000,"month":1,"date":1,"hours":23,"minutes":0},{"year":2000,"month":1,"date":1,"hours":23,"minutes":5},{"year":2000,"month":1,"date":1,"hours":23,"minutes":10},{"year":2000,"month":1,"date":1,"hours":23,"minutes":15},{"year":2000,"month":1,"date":1,"hours":23,"minutes":20},{"year":2000,"month":1,"date":1,"hours":23,"minutes":25},{"year":2000,"month":1,"date":1,"hours":23,"minutes":30},{"year":2000,"month":1,"date":1,"hours":23,"minutes":35},{"year":2000,"month":1,"date":1,"hours":23,"minutes":40},{"year":2000,"month":1,"date":1,"hours":23,"minutes":45},{"year":2000,"month":1,"date":1,"hours":23,"minutes":50},{"year":2000,"month":1,"date":1,"hours":23,"minutes":55},
                  {"year":2000,"month":1,"date":2,"hours":0,"minutes":0},{"year":2000,"month":1,"date":2,"hours":0,"minutes":5},{"year":2000,"month":1,"date":2,"hours":0,"minutes":10},{"year":2000,"month":1,"date":2,"hours":0,"minutes":15},{"year":2000,"month":1,"date":2,"hours":0,"minutes":20},{"year":2000,"month":1,"date":2,"hours":0,"minutes":25},{"year":2000,"month":1,"date":2,"hours":0,"minutes":30},{"year":2000,"month":1,"date":2,"hours":0,"minutes":35},{"year":2000,"month":1,"date":2,"hours":0,"minutes":40},{"year":2000,"month":1,"date":2,"hours":0,"minutes":45},{"year":2000,"month":1,"date":2,"hours":0,"minutes":50},{"year":2000,"month":1,"date":2,"hours":0,"minutes":55},
                  {"year":2000,"month":1,"date":2,"hours":1,"minutes":0}
                ],
                "tickSize": 10, "tickWidth": 1.8,
                "labelExpr": "minutes(datum.value) == 0 ? timeFormat(datum.value, '%H:%M') : ''",
                "labelFontSize": 28, "labelPadding": 4, "labelOverlap": false, "labelFlush": false, "labelBound": false}},
            "y": {"field": "top", "type": "quantitative",
              "scale": {"domain": [-56.951, 38.655], "reverse": true, "nice": false, "zero": false},
              "axis": {"orient": "left", "offset": -263, "values": [0, 2.5, 5, 7.5, 10, 12.5, 15, 17.5, 20], "labels": false, "tickSize": 5, "tickWidth": 2, "domain": false, "title": null}},
            "y2": {"field": "bot"},
            "size": {"field": "pct", "type": "quantitative", "scale": {"domain": [0, 100], "range": [0, 225]}, "legend": null}
          }
        },
        {
          "data": {"name": "kites"},
          "transform": [{"filter": "datum.panel == 'Daphnids' && datum.period == 'night' && datum.fill == 'white'"}],
          "mark": {"type": "bar", "color": "white", "strokeWidth": 0},
          "encoding": {
            "x": {"field": "t", "type": "temporal"},
            "y": {"field": "top", "type": "quantitative"},
            "y2": {"field": "bot"},
            "size": {"field": "pct", "type": "quantitative", "scale": {"domain": [0, 100], "range": [0, 225]}, "legend": null}
          }
        },
        {
          "data": {"name": "kites"},
          "transform": [{"filter": "datum.panel == 'Daphnids' && datum.period == 'night' && datum.fill == 'black'"}],
          "mark": {"type": "bar", "color": "black", "stroke": "black", "strokeWidth": 1},
          "encoding": {
            "x": {"field": "t", "type": "temporal"},
            "y": {"field": "top", "type": "quantitative"},
            "y2": {"field": "bot"},
            "size": {"field": "pct", "type": "quantitative", "scale": {"domain": [0, 100], "range": [0, 225]}, "legend": null}
          }
        },
        {
          "data": {"name": "samples"},
          "transform": [{"filter": "datum.level == 'low'"}],
          "mark": {"type": "rect", "fill": "white", "stroke": "black", "strokeWidth": 1.5, "cornerRadius": 3},
          "encoding": {"x": {"field": "t0", "type": "temporal"}, "x2": {"field": "t1"}, "y": {"datum": -1.5}, "y2": {"datum": -0.9}}
        },
        {
          "data": {"name": "samples"},
          "transform": [{"filter": "datum.level == 'high'"}],
          "mark": {"type": "rect", "fill": "white", "stroke": "black", "strokeWidth": 1.5, "cornerRadius": 3},
          "encoding": {"x": {"field": "t0", "type": "temporal"}, "x2": {"field": "t1"}, "y": {"datum": -2.2}, "y2": {"datum": -1.6}}
        },
        {
          "data": {"name": "lines"},
          "transform": [{"filter": "datum.line == 'solid'"}],
          "mark": {"type": "line", "color": "black", "strokeWidth": 3.5},
          "encoding": {"x": {"field": "t", "type": "temporal"}, "y": {"field": "d", "type": "quantitative"}}
        },
        {
          "data": {"name": "lines"},
          "transform": [{"filter": "datum.line == 'dashed'"}],
          "mark": {"type": "line", "color": "black", "strokeWidth": 4},
          "encoding": {"x": {"field": "t", "type": "temporal"}, "y": {"field": "d", "type": "quantitative"}}
        },
        {
          "data": {"name": "lines"},
          "transform": [{"filter": "datum.line == 'dashed'"}],
          "mark": {"type": "line", "color": "white", "strokeWidth": 1.5, "strokeDash": [3, 7]},
          "encoding": {"x": {"field": "t", "type": "temporal"}, "y": {"field": "d", "type": "quantitative"}}
        },
        {
          "data": {"name": "stars"},
          "transform": [{"filter": "datum.panel == 'Daphnids'"}],
          "mark": {"type": "point", "shape": "M0,-1L0.2245,-0.309L0.951,-0.309L0.3633,0.118L0.588,0.809L0,0.382L-0.588,0.809L-0.3633,0.118L-0.951,-0.309L-0.2245,-0.309Z", "size": 1250, "filled": true, "fill": "white", "stroke": "black", "strokeWidth": 2, "opacity": 1},
          "encoding": {"x": {"field": "t", "type": "temporal"}, "y": {"field": "d", "type": "quantitative"}}
        },
        {
          "data": {"name": "numbers"},
          "transform": [{"filter": "datum.period == 'night'"}],
          "mark": {"type": "text", "font": "Liberation Sans", "fontWeight": "bold", "fontSize": 24, "baseline": "middle", "align": "center", "color": "white"},
          "encoding": {"x": {"field": "t", "type": "temporal"}, "y": {"field": "d", "type": "quantitative"}, "text": {"field": "label"}}
        },
        {
          "data": {"values": [{}]},
          "mark": {"type": "rule", "color": "black", "strokeWidth": 2.5},
          "encoding": {
            "x": {"datum": {"year":2000,"month":1,"date":1,"hours":20,"minutes":23,"seconds":32}},
            "x2": {"datum": {"year":2000,"month":1,"date":2,"hours":1,"minutes":0,"seconds":28}},
            "y": {"datum": 0}
          }
        },
        {
          "data": {"values": [{}]},
          "mark": {"type": "rule", "color": "black", "strokeWidth": 2.5},
          "encoding": {
            "x": {"datum": {"year":2000,"month":1,"date":1,"hours":20,"minutes":23,"seconds":32}},
            "x2": {"datum": {"year":2000,"month":1,"date":2,"hours":1,"minutes":0,"seconds":28}},
            "y": {"datum": 20}
          }
        },
        {
          "data": {"values": [{}]},
          "mark": {"type": "rule", "color": "black", "strokeWidth": 2.5},
          "encoding": {
            "x": {"datum": {"year":2000,"month":1,"date":1,"hours":20,"minutes":23,"seconds":32}},
            "y": {"datum": 0},
            "y2": {"datum": 20}
          }
        },
        {
          "data": {"values": [{}]},
          "mark": {"type": "rule", "color": "black", "strokeWidth": 2.5},
          "encoding": {
            "x": {"datum": {"year":2000,"month":1,"date":1,"hours":20,"minutes":45}},
            "x2": {"datum": {"year":2000,"month":1,"date":2,"hours":1,"minutes":0}},
            "y": {"datum": 20.807}
          }
        },
        {
          "data": {"values": [{}]},
          "mark": {"type": "text", "font": "Liberation Serif", "fontSize": 35, "align": "center", "baseline": "alphabetic", "color": "black"},
          "encoding": {
            "x": {"datum": {"year":2000,"month":1,"date":1,"hours":22,"minutes":0}},
            "y": {"datum": 28.7},
            "text": {"value": "Local time"}
          }
        }
      ]
    },
    {
      "layer": [
        {
          "data": {"name": "band"},
          "mark": {"type": "rect", "color": "#b3b3b3"},
          "encoding": {
            "x": {"datum": {"year":2000,"month":1,"date":1,"hours":13}, "axis": null},
            "x2": {"datum": {"year":2000,"month":1,"date":1,"hours":17}},
            "y": {"field": "top", "type": "quantitative",
              "scale": {"domain": [-34.722, 63.981], "reverse": true, "nice": false, "zero": false},
              "axis": {"orient": "left", "offset": -80, "values": [0, 2.5, 5, 7.5, 10, 12.5, 15, 17.5, 20], "labelExpr": "datum.value % 10 == 0 ? datum.label : ''", "tickSize": 8, "tickWidth": 2, "domain": false, "labelFontSize": 26, "labelPadding": 4, "labelOverlap": false, "labelFlush": false, "title": "Depth (m)", "titleFontSize": 29, "titlePadding": 8}},
            "y2": {"field": "bot"}
          }
        },
        {
          "data": {"name": "kites"},
          "transform": [{"filter": "datum.panel == 'Cyclopoids' && datum.period == 'day' && datum.fill == 'white'"}],
          "mark": {"type": "bar", "color": "black", "stroke": "black", "strokeWidth": 8},
          "encoding": {
            "x": {"field": "t", "type": "temporal", "scale": {"domain": [{"year":2000,"month":1,"date":1,"hours":11,"minutes":3,"seconds":38}, {"year":2000,"month":1,"date":2,"hours":9,"minutes":37,"seconds":49}], "nice": false}, "axis": null},
            "y": {"field": "top", "type": "quantitative"},
            "y2": {"field": "bot"},
            "size": {"field": "pct", "type": "quantitative", "scale": {"domain": [0, 100], "range": [0, 225]}, "legend": null}
          }
        },
        {
          "data": {"name": "kites"},
          "transform": [{"filter": "datum.panel == 'Cyclopoids' && datum.period == 'day' && datum.fill == 'white'"}],
          "mark": {"type": "bar", "color": "white", "strokeWidth": 0},
          "encoding": {
            "x": {"field": "t", "type": "temporal", "axis": null},
            "y": {"field": "top", "type": "quantitative"},
            "y2": {"field": "bot"},
            "size": {"field": "pct", "type": "quantitative", "scale": {"domain": [0, 100], "range": [0, 225]}, "legend": null}
          }
        },
        {
          "data": {"name": "kites"},
          "transform": [{"filter": "datum.panel == 'Cyclopoids' && datum.period == 'day' && datum.fill == 'black'"}],
          "mark": {"type": "bar", "color": "black", "stroke": "black", "strokeWidth": 1},
          "encoding": {
            "x": {"field": "t", "type": "temporal", "axis": null},
            "y": {"field": "top", "type": "quantitative"},
            "y2": {"field": "bot"},
            "size": {"field": "pct", "type": "quantitative", "scale": {"domain": [0, 100], "range": [0, 225]}, "legend": null}
          }
        },
        {
          "data": {"name": "panel_labels"},
          "transform": [{"filter": "datum.panel == 'Cyclopoids'"}],
          "mark": {"type": "text", "font": "Liberation Serif", "fontWeight": "bold", "fontSize": 25, "baseline": "middle", "align": "center", "color": "black"},
          "encoding": {"x": {"field": "t", "type": "temporal", "axis": null}, "y": {"field": "d", "type": "quantitative"}, "text": {"field": "panel"}}
        },
        {
          "data": {"values": [{}]},
          "mark": {"type": "rect", "fill": "transparent", "stroke": "black", "strokeWidth": 2},
          "encoding": {
            "x": {"datum": {"year":2000,"month":1,"date":1,"hours":13}, "axis": null},
            "x2": {"datum": {"year":2000,"month":1,"date":1,"hours":17}},
            "y": {"datum": 0},
            "y2": {"datum": 20}
          }
        }
      ]
    },
    {
      "layer": [
        {
          "data": {"name": "band"},
          "mark": {"type": "rect", "color": "#b3b3b3"},
          "encoding": {
            "x": {"datum": {"year":2000,"month":1,"date":1,"hours":13}, "axis": null},
            "x2": {"datum": {"year":2000,"month":1,"date":1,"hours":17}},
            "y": {"field": "top", "type": "quantitative",
              "scale": {"domain": [-56.951, 38.655], "reverse": true, "nice": false, "zero": false},
              "axis": {"orient": "left", "offset": -80, "values": [0, 2.5, 5, 7.5, 10, 12.5, 15, 17.5, 20], "labelExpr": "datum.value % 10 == 0 ? datum.label : ''", "tickSize": 8, "tickWidth": 2, "domain": false, "labelFontSize": 26, "labelPadding": 4, "labelOverlap": false, "labelFlush": false, "title": "Depth (m)", "titleFontSize": 29, "titlePadding": 8}},
            "y2": {"field": "bot"}
          }
        },
        {
          "data": {"name": "kites"},
          "transform": [{"filter": "datum.panel == 'Daphnids' && datum.period == 'day' && datum.fill == 'white'"}],
          "mark": {"type": "bar", "color": "black", "stroke": "black", "strokeWidth": 8},
          "encoding": {
            "x": {"field": "t", "type": "temporal", "scale": {"domain": [{"year":2000,"month":1,"date":1,"hours":11,"minutes":3,"seconds":38}, {"year":2000,"month":1,"date":2,"hours":9,"minutes":37,"seconds":49}], "nice": false}, "axis": null},
            "y": {"field": "top", "type": "quantitative"},
            "y2": {"field": "bot"},
            "size": {"field": "pct", "type": "quantitative", "scale": {"domain": [0, 100], "range": [0, 225]}, "legend": null}
          }
        },
        {
          "data": {"name": "kites"},
          "transform": [{"filter": "datum.panel == 'Daphnids' && datum.period == 'day' && datum.fill == 'white'"}],
          "mark": {"type": "bar", "color": "white", "strokeWidth": 0},
          "encoding": {
            "x": {"field": "t", "type": "temporal", "axis": null},
            "y": {"field": "top", "type": "quantitative"},
            "y2": {"field": "bot"},
            "size": {"field": "pct", "type": "quantitative", "scale": {"domain": [0, 100], "range": [0, 225]}, "legend": null}
          }
        },
        {
          "data": {"name": "kites"},
          "transform": [{"filter": "datum.panel == 'Daphnids' && datum.period == 'day' && datum.fill == 'black'"}],
          "mark": {"type": "bar", "color": "black", "stroke": "black", "strokeWidth": 1},
          "encoding": {
            "x": {"field": "t", "type": "temporal", "axis": null},
            "y": {"field": "top", "type": "quantitative"},
            "y2": {"field": "bot"},
            "size": {"field": "pct", "type": "quantitative", "scale": {"domain": [0, 100], "range": [0, 225]}, "legend": null}
          }
        },
        {
          "data": {"name": "panel_labels"},
          "transform": [{"filter": "datum.panel == 'Daphnids'"}],
          "mark": {"type": "text", "font": "Liberation Serif", "fontWeight": "bold", "fontSize": 25, "baseline": "middle", "align": "center", "color": "black"},
          "encoding": {"x": {"field": "t", "type": "temporal", "axis": null}, "y": {"field": "d", "type": "quantitative"}, "text": {"field": "panel"}}
        },
        {
          "data": {"name": "numbers"},
          "transform": [{"filter": "datum.period == 'day'"}],
          "mark": {"type": "text", "font": "Liberation Sans", "fontWeight": "bold", "fontSize": 24, "baseline": "middle", "align": "center", "color": "white"},
          "encoding": {"x": {"field": "t", "type": "temporal", "axis": null}, "y": {"field": "d", "type": "quantitative"}, "text": {"field": "label"}}
        },
        {
          "data": {"values": [{}]},
          "mark": {"type": "rect", "fill": "transparent", "stroke": "black", "strokeWidth": 2},
          "encoding": {
            "x": {"datum": {"year":2000,"month":1,"date":1,"hours":13}, "axis": null},
            "x2": {"datum": {"year":2000,"month":1,"date":1,"hours":17}},
            "y": {"datum": 0},
            "y2": {"datum": 20}
          }
        },
        {
          "data": {"values": [{}]},
          "mark": {"type": "text", "font": "Liberation Serif", "fontSize": 28, "align": "center", "baseline": "alphabetic", "color": "black"},
          "encoding": {
            "x": {"datum": {"year":2000,"month":1,"date":1,"hours":15}, "axis": null},
            "y": {"datum": 23.95},
            "text": {"value": "14:00 - 1600"}
          }
        }
      ]
    },
    {
      "layer": [
        {
          "data": {"values": [{}]},
          "mark": {"type": "rule", "color": "black", "strokeWidth": 3},
          "encoding": {
            "x": {"datum": 0,
              "scale": {"domain": [-35.556, 378.222], "nice": false, "zero": false},
              "axis": {"orient": "top", "offset": -993, "values": [0, 15, 30, 45, 60], "labelExpr": "datum.value % 30 == 0 ? datum.label : ''", "tickSize": 10, "tickWidth": 2.5, "domain": false, "labelFont": "Liberation Sans", "labelFontSize": 24, "labelPadding": 6, "labelFlush": false, "labelOverlap": false, "title": null}},
            "x2": {"datum": 60},
            "y": {"datum": 32.11, "scale": {"domain": [-56.951, 38.655], "reverse": true, "nice": false, "zero": false}, "axis": null}
          }
        },
        {
          "data": {"values": [{}]},
          "mark": {"type": "text", "font": "Liberation Serif", "fontStyle": "italic", "fontSize": 27, "align": "left", "baseline": "alphabetic", "lineHeight": 31, "color": "black"},
          "encoding": {
            "x": {"datum": 0.5},
            "y": {"datum": 34.71, "axis": null},
            "text": {"value": ["percentage  of  the sub-populations", " present in the 0-20 m layer"]}
          }
        }
      ]
    }
  ]
}
